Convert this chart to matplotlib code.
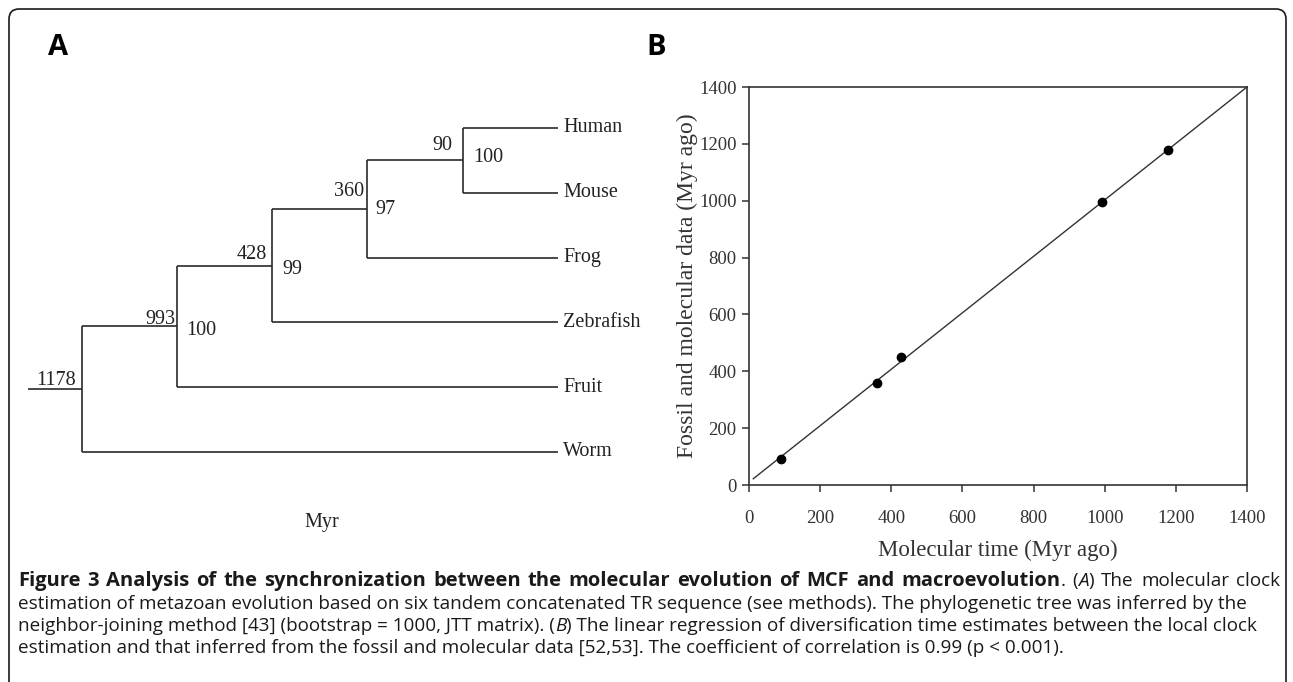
import matplotlib
matplotlib.use("Agg")
import matplotlib.pyplot as plt
from matplotlib.patches import FancyBboxPatch
from matplotlib.transforms import IdentityTransform
import numpy as np

W, H, DPI = 1293, 682, 100

# ---------------- data ----------------
# Panel A: ladder-shaped tree, tips from top to bottom
tips = ["Human", "Mouse", "Frog", "Zebrafish", "Fruit", "Worm"]
# internal nodes from the most recent (Human+Mouse) to the root
node_ages = [90, 360, 428, 993, 1178]
node_boot = [100, 97, 99, 100, None]
tree_xlabel = "Myr"

# Panel B: molecular time vs fossil / molecular data
molecular_time = [90, 360, 428, 993, 1178]
fossil_time = [90, 360, 450, 995, 1180]
fit_x = [12, 1400]
fit_y = [22, 1400]
b_ticks = [0, 200, 400, 600, 800, 1000, 1200, 1400]
b_xlabel = "Molecular time (Myr ago)"
b_ylabel = "Fossil and molecular data (Myr ago)"

caption_lines = [
    [("Figure 3 Analysis of the synchronization between the molecular evolution of MCF and macroevolution", "bold"),
     (". (", "normal"), ("A", "italic"), (") The molecular clock", "normal")],
    [("estimation of metazoan evolution based on six tandem concatenated TR sequence (see methods). The phylogenetic tree was inferred by the", "normal")],
    [("neighbor-joining method [43] (bootstrap = 1000, JTT matrix). (", "normal"), ("B", "italic"),
     (") The linear regression of diversification time estimates between the local clock", "normal")],
    [("estimation and that inferred from the fossil and molecular data [52,53]. The coefficient of correlation is 0.99 (p < 0.001).", "normal")],
]

# ---------------- figure ----------------
fig = plt.figure(figsize=(W / DPI, H / DPI), dpi=DPI)
fig.patch.set_facecolor("white")

def fx(px):
    return px / W

def fy(py):
    return 1 - py / H

SERIF = "Liberation Serif"
SANS = "Open Sans"
LINE = "#2a2a2a"

# outer rounded frame
frame = FancyBboxPatch((9, -30), 1277, H - 9 + 30, boxstyle="round,pad=0,rounding_size=10",
                       transform=IdentityTransform(), fill=False, ec="#1a1a1a", lw=1.2)
fig.patches.append(frame)

fig.text(fx(48), fy(55), "A", fontsize=21, fontweight="bold", family=SANS, va="baseline", ha="left")
fig.text(fx(646), fy(55), "B", fontsize=21, fontweight="bold", family=SANS, va="baseline", ha="left")

# ---------------- panel A: tree ----------------
axA = fig.add_axes([fx(28), fy(452), fx(558) - fx(28), fy(128) - fy(452)])
axA.set_xlim(-0.564, 5)
axA.set_ylim(5, 0)
axA.axis("off")

ntip = len(tips)
tip_x = ntip - 1
tip_y = list(range(ntip))
node_x, node_y = [], []
child_prev_x, child_prev_y = tip_x, tip_y[0]
kw = dict(color=LINE, lw=1.2, solid_capstyle="butt", clip_on=False)
for k in range(len(node_ages)):
    x = tip_x - 1 - k
    ya = child_prev_y
    yb = tip_y[k + 1]
    y = (ya + yb) / 2
    axA.plot([x, x], [ya, yb], **kw)
    axA.plot([x, child_prev_x], [ya, ya], **kw)
    axA.plot([x, tip_x], [yb, yb], **kw)
    node_x.append(x)
    node_y.append(y)
    child_prev_x, child_prev_y = x, y
# root stub
axA.plot([-0.564, node_x[-1]], [node_y[-1], node_y[-1]], **kw)

tfont = dict(family=SERIF, fontsize=14.5, color="#222222")
for name, y in zip(tips, tip_y):
    axA.annotate(name, (tip_x, y), xytext=(5, 0), textcoords="offset pixels",
                 ha="left", va="center", annotation_clip=False, **tfont)

age_off = [(-10, 10), (-3, 13), (-5, 7), (-2, 2), (-6, 4)]
boot_off = [(10, 3), (8, -1), (10, -4), (9, -4)]
for k in range(len(node_ages)):
    dx, dy = age_off[k]
    axA.annotate(str(node_ages[k]), (node_x[k], node_y[k]), xytext=(dx, dy), textcoords="offset pixels",
                 ha="right", va="baseline", annotation_clip=False, **tfont)
    if node_boot[k] is not None:
        dx, dy = boot_off[k]
        axA.annotate(str(node_boot[k]), (node_x[k], node_y[k]), xytext=(dx, dy), textcoords="offset pixels",
                     ha="left", va="center", annotation_clip=False, **tfont)

fig.text(fx(322), fy(523), tree_xlabel, ha="center", va="center", **tfont)

# ---------------- panel B: scatter ----------------
axB = fig.add_axes([fx(749), fy(485), fx(1247) - fx(749), fy(87) - fy(485)])
axB.set_xlim(0, 1400)
axB.set_ylim(0, 1400)
axB.plot(fit_x, fit_y, color="#333333", lw=1.0, zorder=2, clip_on=False)
axB.plot(molecular_time, fossil_time, "o", color="black", ms=6, zorder=3, clip_on=False)
axB.set_xticks(b_ticks)
axB.set_yticks(b_ticks)
axB.set_xticklabels([str(t) for t in b_ticks])
axB.set_yticklabels([str(t) for t in b_ticks])
for s in axB.spines.values():
    s.set_color("#333333")
    s.set_linewidth(1.2)
axB.tick_params(direction="out", length=5, width=1.1, color="#333333", labelcolor="#333333",
                labelsize=13.5, pad=4)
for lab in axB.get_xticklabels() + axB.get_yticklabels():
    lab.set_family(SERIF)
axB.tick_params(axis="x", pad=13)
axB.set_xlabel(b_xlabel, family=SERIF, fontsize=16.5, color="#333333", labelpad=9)
axB.set_ylabel(b_ylabel, family=SERIF, fontsize=17, color="#333333", labelpad=1)

# ---------------- caption ----------------
fig.canvas.draw()
renderer = fig.canvas.get_renderer()

def make_kw(style, size):
    kw = dict(family=SANS, fontsize=size, color="#1a1a1a", va="center", ha="left")
    if style == "bold":
        kw["fontweight"] = "bold"
    elif style == "italic":
        kw["fontstyle"] = "italic"
    return kw

def text_width(s, style, size):
    t = fig.text(0, 0, s, **make_kw(style, size))
    w = t.get_window_extent(renderer).width
    t.remove()
    return w

# pick the caption size so that the second line spans the caption width
cap_size = 10 * 1227 / text_width(caption_lines[1][0][0], "normal", 10)
bold_size = cap_size * 1.07

cap_x0 = 18
cap_y = [581, 604, 626, 648]
cap_right = [1280, None, None, None]   # first line is justified to the right margin

def piece_size(style):
    return bold_size if style == "bold" else cap_size

for line, ybase, right in zip(caption_lines, cap_y, cap_right):
    if right is None:
        xcur = cap_x0
        for txt, style in line:
            t = fig.text(fx(xcur), fy(ybase), txt, **make_kw(style, piece_size(style)))
            xcur += t.get_window_extent(renderer).width
        continue
    tokens = []  # (text, style, space_before)
    for txt, style in line:
        parts = txt.split(" ")
        for i, p in enumerate(parts):
            if p == "":
                continue
            tokens.append((p, style, bool(tokens) and i > 0))
    widths = [text_width(p, s, piece_size(s)) for p, s, _ in tokens]
    n_gaps = sum(1 for _, _, sb in tokens if sb)
    gap = (right - cap_x0 - sum(widths)) / max(n_gaps, 1)
    xcur = cap_x0
    for (p, s, sb), w in zip(tokens, widths):
        if sb:
            xcur += gap
        fig.text(fx(xcur), fy(ybase), p, **make_kw(s, piece_size(s)))
        xcur += w

fig.savefig("out.png", dpi=DPI, facecolor="white")
